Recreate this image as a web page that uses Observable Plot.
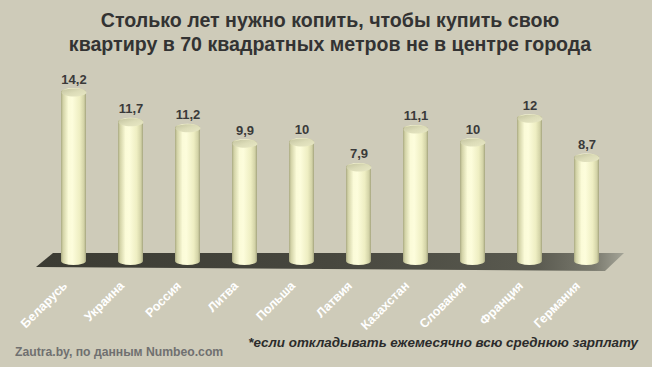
<!DOCTYPE html>
<html>
<head>
<meta charset="utf-8">
<script src="https://cdn.jsdelivr.net/npm/d3@7"></script>
<script src="https://cdn.jsdelivr.net/npm/@observablehq/plot@0.6"></script>
<style>
  html, body { margin: 0; padding: 0; background: #ffffff; }
  #wrap { position: relative; width: 662px; height: 367px; overflow: hidden; }
  #bg { position: absolute; left: 0; top: 0; width: 652px; height: 367px; background: #cecbb9; }
  #title { position: absolute; left: 0; top: 8px; width: 660px; text-align: center;
    font-family: "Liberation Sans Narrow", "Arial Narrow", "Liberation Sans", Arial, sans-serif;
    font-weight: bold; font-size: 19.6px; line-height: 24px; color: #333333; }
  #chart { position: absolute; left: 0; top: 58px; }
  #source { position: absolute; left: 15px; top: 346px; font-family: "Liberation Sans", Arial, sans-serif;
    font-weight: bold; font-size: 12.2px; line-height: 1; color: #707070; white-space: nowrap; }
  #note { position: absolute; right: 24px; top: 336px; font-family: "Liberation Sans", Arial, sans-serif;
    font-weight: bold; font-style: italic; font-size: 13.4px; line-height: 1; color: #2b2b2b; white-space: nowrap; }
</style>
</head>
<body>
<div id="wrap">
  <div id="bg"></div>
  <div id="title">Столько лет нужно копить, чтобы купить свою<br>квартиру в 70 квадратных метров не в центре города</div>
  <div id="chart"></div>
  <div id="source">Zautra.by, по данным Numbeo.com</div>
  <div id="note">*если откладывать ежемесячно всю среднюю зарплату</div>
</div>
<script>
const countries = ["Беларусь", "Украина", "Россия", "Литва", "Польша", "Латвия", "Казахстан", "Словакия", "Франция", "Германия"];
const years = [14.2, 11.7, 11.2, 9.9, 10, 7.9, 11.1, 10, 12, 8.7];
const yearLabels = ["14,2", "11,7", "11,2", "9,9", "10", "7,9", "11,1", "10", "12", "8,7"];

const data = countries.map((c, i) => ({country: c, years: years[i], label: yearLabels[i]}));

const PAD = 0.565;
const CAP_RX = 12.5, CAP_RY = 4;

// ellipse symbol for cylinder caps
const ellipseSymbol = {
  draw(ctx) {
    const rx = CAP_RX, ry = CAP_RY, k = 0.5523;
    ctx.moveTo(rx, 0);
    ctx.bezierCurveTo(rx, ry * k, rx * k, ry, 0, ry);
    ctx.bezierCurveTo(-rx * k, ry, -rx, ry * k, -rx, 0);
    ctx.bezierCurveTo(-rx, -ry * k, -rx * k, -ry, 0, -ry);
    ctx.bezierCurveTo(rx * k, -ry, rx, -ry * k, rx, 0);
    ctx.closePath();
  }
};

function defsMark() {
  const defs = d3.create("svg:defs");
  const g1 = defs.append("linearGradient").attr("id", "cyl").attr("x1", 0).attr("x2", 1).attr("y1", 0).attr("y2", 0);
  [[0, "#a9a982"], [0.08, "#d2d2a6"], [0.3, "#fbfbd8"], [0.45, "#fdfddc"], [0.75, "#eeeec2"], [0.92, "#d2d2a6"], [1, "#a4a47e"]]
    .forEach(([o, c]) => g1.append("stop").attr("offset", o).attr("stop-color", c));
  const g2 = defs.append("linearGradient").attr("id", "cap").attr("x1", 0).attr("x2", 1).attr("y1", 0).attr("y2", 1);
  [[0, "#c2c29e"], [0.5, "#dcdcb8"], [1, "#e8e8c4"]]
    .forEach(([o, c]) => g2.append("stop").attr("offset", o).attr("stop-color", c));
  const g3 = defs.append("linearGradient").attr("id", "floor").attr("x1", 0).attr("x2", 1).attr("y1", 0).attr("y2", 0);
  [[0, "#3b3b33"], [0.5, "#47473e"], [0.85, "#5a5a50"], [0.95, "#7a7a6e"], [1, "#a5a598"]]
    .forEach(([o, c]) => g3.append("stop").attr("offset", o).attr("stop-color", c));
  return defs.node();
}

function floorMark(index, scales) {
  const x = scales.x, y = scales.y;
  const x0s = x(countries[0]), x1s = x(countries[1]);
  const step = x1s - x0s;
  const bw = typeof x.bandwidth === "function" ? x.bandwidth() : (typeof x.bandwidth === "number" ? x.bandwidth : step * (1 - PAD));
  const left = x0s, right = x(countries[countries.length - 1]) + bw;
  const y0 = y(0);
  const pts = [
    [left - 8, y0 - 8], [right + 25, y0 - 8], [right + 6, y0 + 10], [left - 25, y0 + 6]
  ];
  const path = d3.create("svg:path")
    .attr("d", "M" + pts.map(p => p.join(",")).join("L") + "Z")
    .attr("fill", "url(#floor)");
  return path.node();
}

const chart = Plot.plot({
  width: 662,
  height: 309,
  marginLeft: 27,
  marginRight: 28.6,
  marginTop: 24.5,
  marginBottom: 106,
  style: {background: "transparent", overflow: "visible"},
  x: {domain: countries, padding: PAD, axis: null},
  y: {domain: [0, 15], axis: null},
  marks: [
    defsMark,
    floorMark,
    Plot.barY(data, {x: "country", y: "years", fill: "url(#cyl)", insetTop: -CAP_RY, insetBottom: -CAP_RY, rx: CAP_RX, ry: CAP_RY}),
    Plot.dot(data, {x: "country", y: "years", symbol: ellipseSymbol, r: 10, fill: "url(#cap)", stroke: "none"}),
    Plot.text(data, {x: "country", y: "years", text: "label", dy: -9, lineAnchor: "bottom",
      fontFamily: "Liberation Sans, Arial, sans-serif", fontWeight: "bold", fontSize: 13, fill: "#3a3a3a"}),
    Plot.text(countries, {x: d => d, frameAnchor: "bottom", dx: -6, dy: 25, rotate: -45, textAnchor: "end", lineAnchor: "bottom",
      fontFamily: "Liberation Sans, Arial, sans-serif", fontWeight: "bold", fontSize: 12.5, fill: "#ffffff"})
  ]
});
document.getElementById("chart").appendChild(chart);
</script>
</body>
</html>
